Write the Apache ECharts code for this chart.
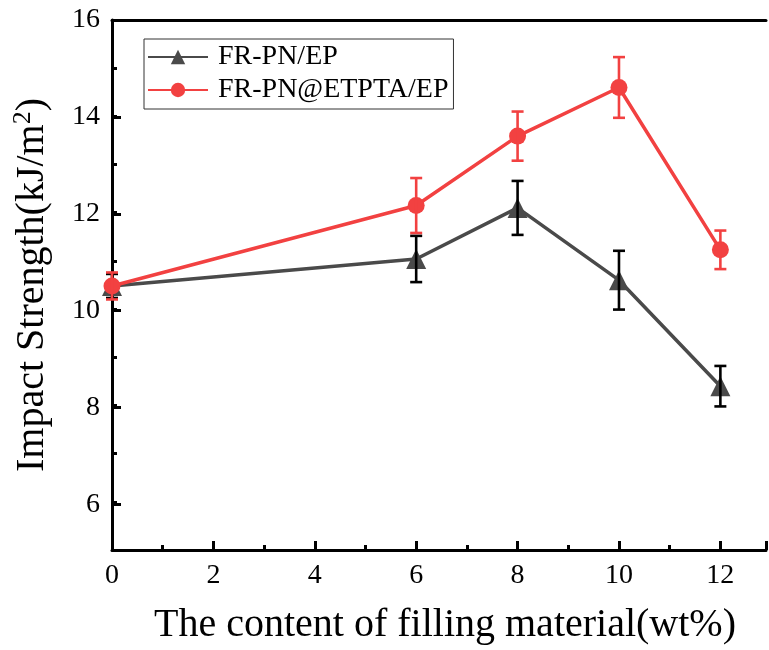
<!DOCTYPE html>
<html>
<head>
<meta charset="utf-8">
<script src="https://cdn.jsdelivr.net/npm/echarts@6/dist/echarts.min.js"></script>
<style>
  html, body { margin: 0; padding: 0; background: #fff; }
  #chart { width: 769px; height: 650px; }
</style>
</head>
<body>
<div id="chart"></div>
<script>
// Filler content (wt%)
const contents = [0, 6, 8, 10, 12];

// Impact strength (kJ/m²) and standard deviations
const seriesNames = ['FR-PN/EP', 'FR-PN@ETPTA/EP'];
const frpnEp = [10.48, 11.04, 12.10, 10.60, 8.40];
const frpnEpErr = [0.25, 0.48, 0.56, 0.61, 0.42];
const frpnEtptaEp = [10.48, 12.15, 13.59, 14.60, 11.23];
const frpnEtptaEpErr = [0.28, 0.57, 0.51, 0.63, 0.40];

const xTicks = [0, 2, 4, 6, 8, 10, 12];
const yTicks = [6, 8, 10, 12, 14, 16];

const FONT = '"Liberation Serif", "Times New Roman", serif';
const GREY = '#4a4a4a';
const RED = '#f24141';

// plot frame geometry (the frame is cut by the right edge of the page)
const LEFT = 112, TOP = 20, BOTTOM_EDGE = 553;
const X_MAX = 12.9;
const Y_MIN = 5, Y_MAX = 16;
const PX_PER_Y = (BOTTOM_EDGE - TOP) / (Y_MAX - Y_MIN);

const pairs = (ys) => contents.map((x, i) => [x, ys[i]]);
const errRows = (ys, es) => contents.map((x, i) => [x, ys[i] - es[i], ys[i] + es[i]]);

function errorBar(color) {
  return function (params, api) {
    const x = api.value(0);
    const lo = api.coord([x, api.value(1)]);
    const hi = api.coord([x, api.value(2)]);
    const half = 6;
    const style = { stroke: color, lineWidth: 2.6 };
    return {
      type: 'group',
      children: [
        { type: 'line', shape: { x1: lo[0], y1: lo[1], x2: hi[0], y2: hi[1] }, style },
        { type: 'line', shape: { x1: lo[0] - half, y1: lo[1], x2: lo[0] + half, y2: lo[1] }, style },
        { type: 'line', shape: { x1: hi[0] - half, y1: hi[1], x2: hi[0] + half, y2: hi[1] }, style }
      ]
    };
  };
}

const chart = echarts.init(document.getElementById('chart'), null, { renderer: 'canvas' });

chart.setOption({
  backgroundColor: '#fff',
  animation: false,
  grid: [
    // main plotting area
    { left: LEFT, top: TOP, bottom: 650 - BOTTOM_EDGE, right: 0, containLabel: false },
    // overlay area carrying the labelled (even) y ticks from 6 to 16
    { left: LEFT, top: TOP, height: PX_PER_Y * (Y_MAX - 6), right: 0, containLabel: false }
  ],
  legend: {
    left: 144,
    top: 39,
    orient: 'vertical',
    data: seriesNames,
    itemWidth: 60,
    itemHeight: 18,
    itemGap: 5,
    padding: [4, 5, 5, 3],
    borderColor: '#333',
    borderWidth: 1,
    textStyle: { fontFamily: FONT, fontSize: 28, color: '#000', padding: [0, 0, 0, 5] }
  },
  xAxis: [
    {
      type: 'value',
      gridIndex: 0,
      min: 0,
      max: X_MAX,
      interval: 2,
      axisLine: { show: true, onZero: false, lineStyle: { color: '#000', width: 3 } },
      axisTick: { show: true, inside: true, length: 9, lineStyle: { color: '#000', width: 3 } },
      minorTick: { show: true, splitNumber: 2, length: 5, lineStyle: { color: '#000', width: 3 } },
      axisLabel: {
        margin: 12, fontFamily: FONT, fontSize: 28, color: '#000',
        formatter: (v) => (xTicks.includes(v) ? String(v) : '')
      },
      splitLine: { show: false },
      name: 'The content of filling material(wt%)',
      nameLocation: 'middle',
      nameGap: 55,
      nameTextStyle: { fontFamily: FONT, fontSize: 40, color: '#000', padding: [0, 0, 0, 12] }
    },
    {
      type: 'value',
      gridIndex: 0,
      position: 'top',
      min: 0,
      max: X_MAX,
      axisLine: { show: true, onZero: false, lineStyle: { color: '#000', width: 3 } },
      axisTick: { show: false },
      axisLabel: { show: false },
      splitLine: { show: false }
    },
    {
      type: 'value',
      gridIndex: 1,
      min: 0,
      max: X_MAX,
      show: false
    }
  ],
  yAxis: [
    {
      type: 'value',
      gridIndex: 0,
      min: Y_MIN,
      max: Y_MAX,
      interval: 1,
      axisLine: { show: true, onZero: false, lineStyle: { color: '#000', width: 3 } },
      axisTick: { show: true, inside: true, length: 5, lineStyle: { color: '#000', width: 3 } },
      axisLabel: { show: false },
      splitLine: { show: false },
      name: 'Impact Strength(kJ/m{sup|2})',
      nameLocation: 'middle',
      nameGap: 58,
      nameTextStyle: {
        fontFamily: FONT, fontSize: 40, color: '#000', lineHeight: 44,
        rich: {
          sup: { fontFamily: FONT, fontSize: 26, color: '#000', verticalAlign: 'top', lineHeight: 44, padding: [0, 0, 8, 0] }
        }
      }
    },
    {
      type: 'value',
      gridIndex: 1,
      min: 6,
      max: Y_MAX,
      interval: 2,
      axisLine: { show: false },
      axisTick: { show: true, inside: true, length: 9, lineStyle: { color: '#000', width: 3 } },
      axisLabel: {
        margin: 12, fontFamily: FONT, fontSize: 28, color: '#000',
        formatter: (v) => (yTicks.includes(v) ? String(v) : '')
      },
      splitLine: { show: false }
    }
  ],
  series: [
    {
      name: seriesNames[0],
      type: 'line',
      data: pairs(frpnEp),
      symbol: 'triangle',
      symbolSize: 20,
      itemStyle: { color: GREY },
      lineStyle: { color: GREY, width: 3.5 },
      z: 3
    },
    {
      type: 'custom',
      name: 'err0',
      renderItem: errorBar('#000'),
      data: errRows(frpnEp, frpnEpErr),
      encode: { x: 0, y: [1, 2] },
      z: 4,
      silent: true
    },
    {
      name: seriesNames[1],
      type: 'line',
      data: pairs(frpnEtptaEp),
      symbol: 'circle',
      symbolSize: 17,
      itemStyle: { color: RED },
      lineStyle: { color: RED, width: 3.5 },
      z: 5
    },
    {
      type: 'custom',
      name: 'err1',
      renderItem: errorBar(RED),
      data: errRows(frpnEtptaEp, frpnEtptaEpErr),
      encode: { x: 0, y: [1, 2] },
      z: 6,
      silent: true
    }
  ]
});
</script>
</body>
</html>
